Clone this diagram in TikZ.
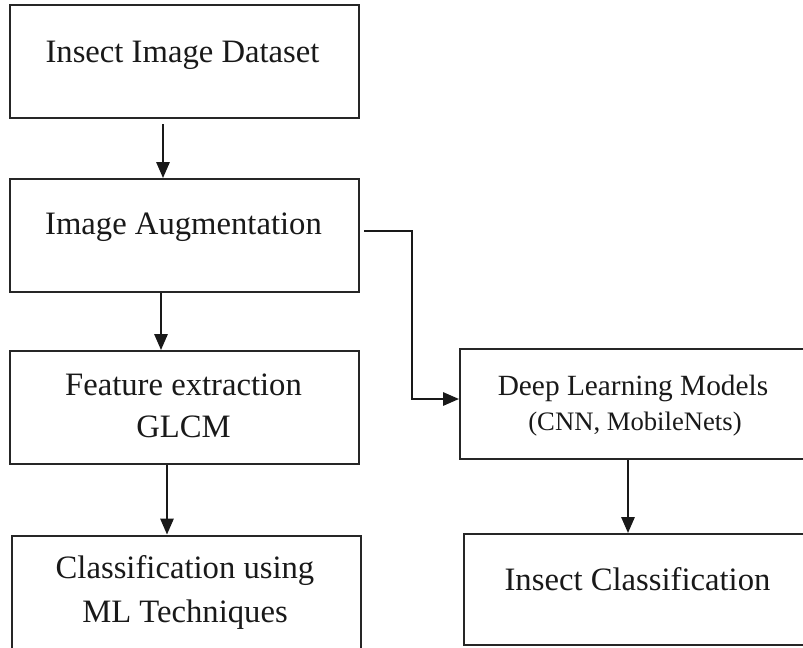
\documentclass[tikz,border=0pt]{standalone}
\usepackage{fontspec}
\setmainfont{Liberation Serif}
\usetikzlibrary{calc,arrows.meta}
\begin{document}
\begin{tikzpicture}[x=0.75pt,y=-0.75pt,
  box/.style={draw=black!85, line width=1.5pt, inner sep=0pt, fill=none},
  lbl/.style={anchor=base, inner sep=0pt, text=black!90, font=\fontsize{24.5pt}{29pt}\selectfont},
  lblsm/.style={anchor=base, inner sep=0pt, text=black!90, font=\fontsize{22pt}{26pt}\selectfont},
  lblxs/.style={anchor=base, inner sep=0pt, text=black!90, font=\fontsize{20pt}{24pt}\selectfont},
  arr/.style={draw=black!90, line width=1.5pt, -{Triangle[length=12pt,width=10pt]}}]
\clip (0,0) rectangle (803,647);
\fill[white] (0,0) rectangle (803,647);
% boxes
\node[box, minimum width=261.75pt, minimum height=84.75pt] (b1) at (184.5,61.5) {};
\node[box, minimum width=261.75pt, minimum height=84.75pt] (b2) at (184.5,235.5) {};
\node[box, minimum width=261.75pt, minimum height=84.75pt] (b3) at (184.5,407.5) {};
\node[box, minimum width=261.75pt, minimum height=93pt] (b4) at (186.5,597.5) {};
\node[box, minimum width=262.5pt, minimum height=82.5pt] (b5) at (635,404) {};
\node[box, minimum width=259.5pt, minimum height=83.25pt] (b6) at (637,589.5) {};
% texts
\node[lbl] (t1) at (182.5,62) {Insect Image Dataset};
\node[lbl] (t2) at (183.5,234) {Image Augmentation};
\node[lbl] (t3a) at (183.5,395) {Feature extraction};
\node[lbl] (t3b) at (183.5,437) {GLCM};
\node[lbl] (t4a) at (185,578) {Classification using};
\node[lbl] (t4b) at (185,622) {ML Techniques};
\node[lblsm] (t5a) at (633,395) {Deep Learning Models};
\node[lblxs] (t5b) at (635,430) {(CNN, MobileNets)};
\node[lbl] (t6) at (637.5,590) {Insect Classification};
% connectors
\draw[arr] ($(b1.south)+(-21.5,5)$) -- ($(b2.north)+(-21.5,0)$);
\draw[arr] ($(b2.south)+(-23.5,0)$) -- ($(b3.north)+(-23.5,0)$);
\draw[arr] ($(b3.south)+(-17.5,0)$) -- ($(b4.north)+(-19.5,0)$);
\coordinate (k) at ($(b5.west)+(-47,-5)$);
\draw[arr] ($(b2.east)+(4,-4.5)$) -| (k) -- ($(b5.west)+(0,-5)$);
\draw[arr] ($(b5.south)+(-7,0)$) -- ($(b6.north)+(-9,0)$);
\end{tikzpicture}
\end{document}
